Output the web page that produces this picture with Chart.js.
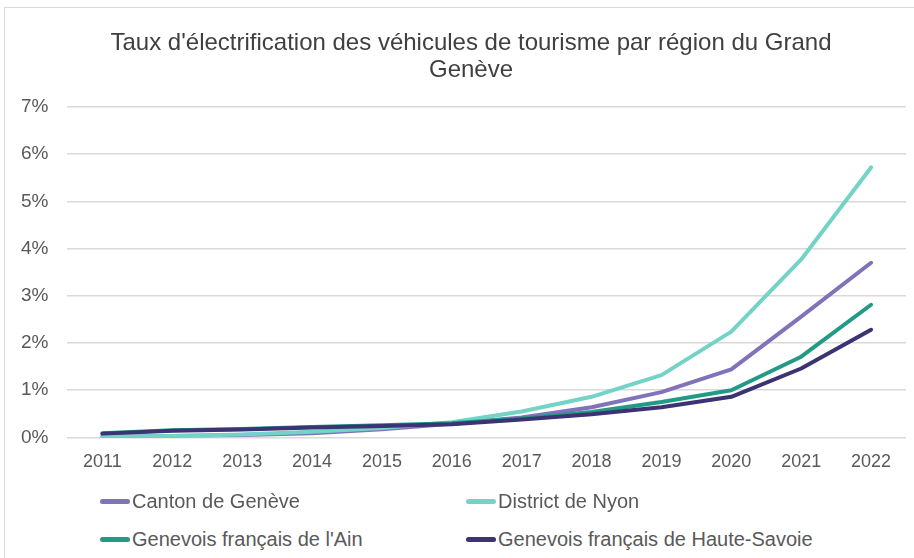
<!DOCTYPE html>
<html lang="fr">
<head>
<meta charset="utf-8">
<script src="https://cdn.jsdelivr.net/npm/chart.js@4.4.1/dist/chart.umd.min.js"></script>
<style>
  html, body { margin: 0; padding: 0; background: #ffffff; overflow: hidden; }
  body { width: 914px; height: 558px; position: relative; font-family: "Liberation Sans", Arial, sans-serif; }
  #frame { position: absolute; left: 4px; top: 7px; width: 1000px; height: 1000px; border: 1px solid #d9d9d9; box-sizing: border-box; }
  #title { position: absolute; left: 0; top: 28px; width: 942px; text-align: center; font-size: 24px; line-height: 27px; color: #404040; }
  #wrap { position: absolute; left: 0; top: 0; width: 942px; height: 493px; }
  #legend { position: absolute; left: 0; top: 490px; width: 914px; }
  .item { position: absolute; display: flex; align-items: center; font-size: 20px; color: #595959; white-space: nowrap; }
  .swatch { width: 30px; height: 5px; border-radius: 3px; margin-right: 2px; }
</style>
</head>
<body>
<div id="frame"></div>
<div id="wrap"><canvas id="chart"></canvas></div>
<div id="title"></div>
<div id="legend"></div>
<script>
// Parts of electric cars in the passenger vehicle fleet (%), by region of Grand Genève
const years = ['2011','2012','2013','2014','2015','2016','2017','2018','2019','2020','2021','2022'];
const cantonGeneve   = [0.02, 0.03, 0.05, 0.09, 0.17, 0.29, 0.42, 0.64, 0.96, 1.44, 2.56, 3.70];
const districtNyon   = [0.02, 0.03, 0.06, 0.12, 0.20, 0.32, 0.55, 0.86, 1.32, 2.24, 3.77, 5.72];
const genevoisAin    = [0.09, 0.15, 0.18, 0.22, 0.26, 0.30, 0.40, 0.54, 0.75, 1.00, 1.71, 2.81];
const genevoisSavoie = [0.08, 0.14, 0.17, 0.21, 0.24, 0.28, 0.38, 0.49, 0.64, 0.86, 1.46, 2.28];
const seriesNames = ['Canton de Genève', 'District de Nyon', "Genevois français de l'Ain", 'Genevois français de Haute-Savoie'];
const seriesColors = ['#8172b9', '#74d3c7', '#229a86', '#3b3373'];
const titleLines = ["Taux d'électrification des véhicules de tourisme par région du Grand", 'Genève'];

document.getElementById('title').innerHTML = titleLines.map(t => t.replace(/&/g, '&amp;').replace(/</g, '&lt;')).join('<br>');

const seriesValues = [cantonGeneve, districtNyon, genevoisAin, genevoisSavoie];
const datasets = seriesValues.map((vals, i) => ({
  label: seriesNames[i],
  data: vals,
  borderColor: seriesColors[i],
  backgroundColor: seriesColors[i],
  borderWidth: 4,
  tension: 0,
  pointRadius: 0,
  borderCapStyle: 'round',
  borderJoinStyle: 'round',
  order: 3 - i
}));

const chart = new Chart(document.getElementById('chart'), {
  type: 'line',
  data: { labels: years, datasets },
  options: {
    responsive: true,
    maintainAspectRatio: false,
    animation: false,
    layout: { padding: { left: 2, right: 36, top: 107, bottom: 6 } },
    plugins: {
      legend: { display: false },
      tooltip: { enabled: false },
      title: { display: false }
    },
    scales: {
      x: {
        offset: true,
        grid: { display: false, drawTicks: false },
        border: { display: false },
        ticks: { color: '#595959', font: { family: '"Liberation Sans", Arial, sans-serif', size: 18 }, padding: 14, maxRotation: 0 }
      },
      y: {
        min: 0,
        max: 7,
        grid: { color: '#d9d9d9', lineWidth: 1.5, drawTicks: false },
        border: { display: false },
        ticks: {
          stepSize: 1,
          color: '#595959',
          font: { family: '"Liberation Sans", Arial, sans-serif', size: 19 },
          padding: 19,
          callback: v => v + '%'
        }
      }
    }
  }
});

// Legend laid out in two columns, built from the chart's datasets
const legendPos = [[100, 0], [466, 0], [100, 38], [466, 38]];
const legend = document.getElementById('legend');
chart.data.datasets.forEach((ds, i) => {
  const item = document.createElement('div');
  item.className = 'item';
  item.style.left = legendPos[i][0] + 'px';
  item.style.top = legendPos[i][1] + 'px';
  const sw = document.createElement('span');
  sw.className = 'swatch';
  sw.style.background = ds.borderColor;
  const txt = document.createElement('span');
  txt.textContent = ds.label;
  item.appendChild(sw);
  item.appendChild(txt);
  legend.appendChild(item);
});
</script>
</body>
</html>
